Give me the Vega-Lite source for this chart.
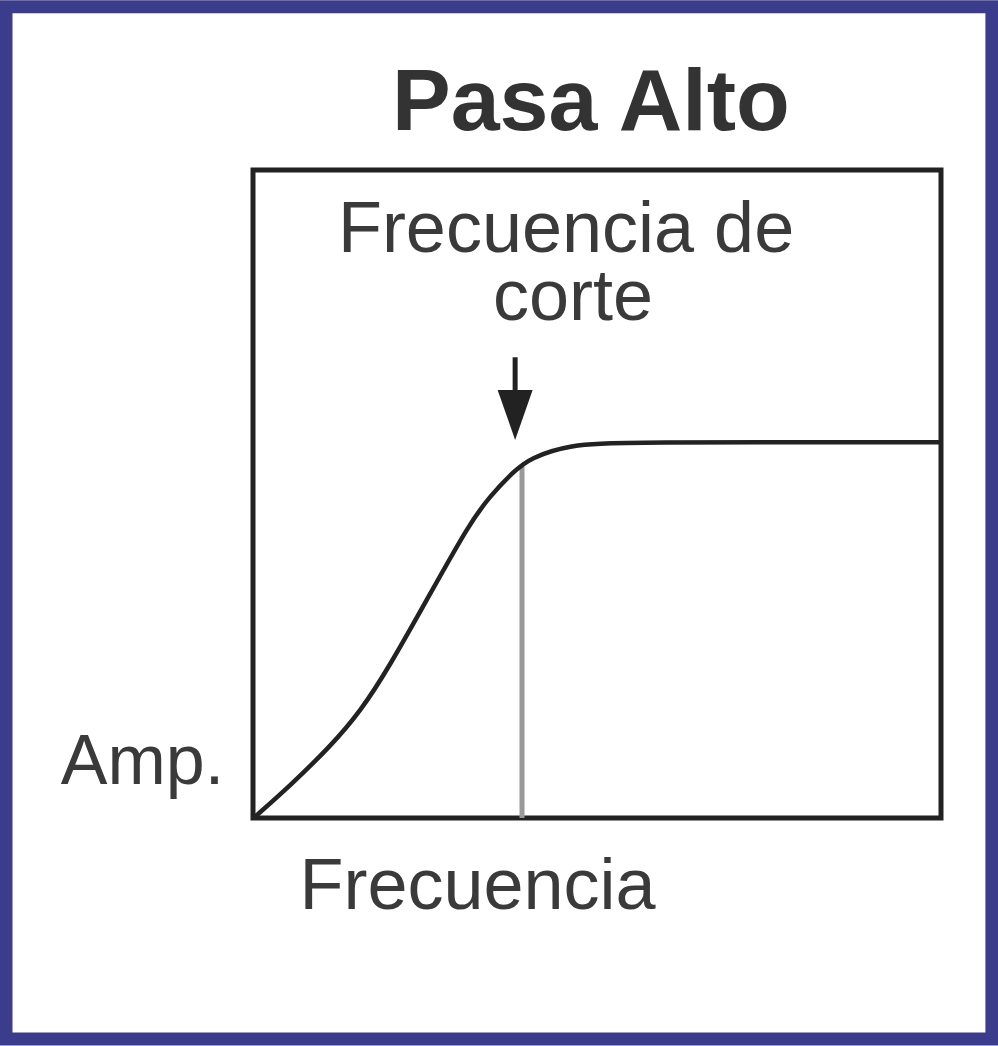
{
  "$schema": "https://vega.github.io/schema/vega-lite/v6.json",
  "autosize": "none",
  "width": 688,
  "height": 648,
  "padding": {"left": 253, "top": 170, "right": 57, "bottom": 228},
  "background": "white",
  "config": {
    "view": {"stroke": "#222222", "strokeWidth": 5},
    "axis": {"domain": false, "ticks": false, "labels": false, "grid": false}
  },
  "datasets": {
    "curve": [
      {"f": 0.3, "a": 0.2},
      {"f": 5.4, "a": 5.0},
      {"f": 11.2, "a": 11.0},
      {"f": 15.6, "a": 16.4},
      {"f": 19.9, "a": 23.5},
      {"f": 25.7, "a": 34.5},
      {"f": 31.5, "a": 45.5},
      {"f": 34.4, "a": 49.6},
      {"f": 37.8, "a": 53.4},
      {"f": 40.3, "a": 55.6},
      {"f": 46.1, "a": 57.6},
      {"f": 53.3, "a": 58.0},
      {"f": 100, "a": 58.0}
    ],
    "cutoff": [{"f": 39.1, "a0": 0, "a1": 54.2}],
    "arrow": [{"f": 38.1, "top": 71.1, "bottom": 63.0, "head": 62.2}],
    "labels": [
      {"f": 45.5, "a": 87.3, "text": "Frecuencia de"},
      {"f": 46.5, "a": 76.9, "text": "corte"}
    ],
    "titles": [{"f": 49.1, "a": 106.2, "text": "Pasa Alto"}],
    "frame": [{"x1": -35.9, "x2": 107.4, "y1": -34.1, "y2": 125.2}]
  },
  "layer": [
    {
      "data": {"name": "frame"},
      "mark": {"type": "rect", "fill": null, "fillOpacity": 0, "stroke": "#3c3c8c", "strokeWidth": 13, "clip": false},
      "encoding": {
        "x": {"field": "x1", "type": "quantitative", "scale": {"domain": [0, 100], "nice": false, "zero": false}, "axis": {"title": "Frecuencia", "titleFont": "Liberation Sans", "titleFontSize": 72, "titleFontWeight": "normal", "titleColor": "#3a3a3a", "titleAlign": "center", "titleBaseline": "alphabetic", "titleX": 224, "titleY": 90}},
        "x2": {"field": "x2"},
        "y": {"field": "y1", "type": "quantitative", "scale": {"domain": [0, 100], "nice": false, "zero": false}, "axis": {"title": "Amp.", "titleFont": "Liberation Sans", "titleFontSize": 70, "titleFontWeight": "normal", "titleColor": "#3a3a3a", "titleAngle": 0, "titleAlign": "center", "titleBaseline": "alphabetic", "titleX": -111, "titleY": 613}},
        "y2": {"field": "y2"}
      }
    },
    {
      "data": {"name": "cutoff"},
      "mark": {"type": "rule", "color": "#999999", "strokeWidth": 5},
      "encoding": {
        "x": {"field": "f", "type": "quantitative"},
        "y": {"field": "a0", "type": "quantitative"},
        "y2": {"field": "a1"}
      }
    },
    {
      "data": {"name": "curve"},
      "mark": {"type": "line", "color": "#222222", "strokeWidth": 4.5, "interpolate": "basis"},
      "encoding": {
        "x": {"field": "f", "type": "quantitative"},
        "y": {"field": "a", "type": "quantitative"}
      }
    },
    {
      "data": {"name": "arrow"},
      "mark": {"type": "rule", "color": "#222222", "strokeWidth": 5},
      "encoding": {
        "x": {"field": "f", "type": "quantitative"},
        "y": {"field": "top", "type": "quantitative"},
        "y2": {"field": "bottom"}
      }
    },
    {
      "data": {"name": "arrow"},
      "mark": {"type": "point", "shape": "M-1,-1.43L1,-1.43L0,1.43Z", "size": 1225, "filled": true, "color": "#222222", "opacity": 1},
      "encoding": {
        "x": {"field": "f", "type": "quantitative"},
        "y": {"field": "head", "type": "quantitative"}
      }
    },
    {
      "data": {"name": "labels"},
      "mark": {"type": "text", "font": "Liberation Sans", "fontSize": 72, "color": "#3a3a3a", "align": "center", "baseline": "alphabetic"},
      "encoding": {
        "x": {"field": "f", "type": "quantitative"},
        "y": {"field": "a", "type": "quantitative"},
        "text": {"field": "text"}
      }
    },
    {
      "data": {"name": "titles"},
      "mark": {"type": "text", "font": "Liberation Sans", "fontSize": 88, "fontWeight": "bold", "color": "#333333", "align": "center", "baseline": "alphabetic", "clip": false},
      "encoding": {
        "x": {"field": "f", "type": "quantitative"},
        "y": {"field": "a", "type": "quantitative"},
        "text": {"field": "text"}
      }
    }
  ]
}
